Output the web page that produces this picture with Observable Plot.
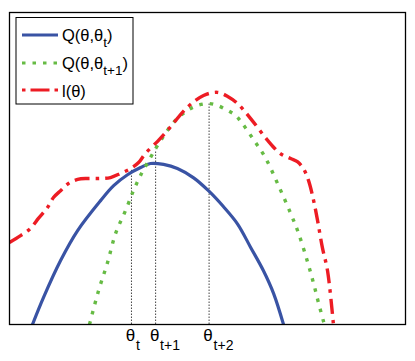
<!DOCTYPE html>
<html>
<head>
<meta charset="utf-8">
<script src="https://cdn.jsdelivr.net/npm/d3@7"></script>
<script src="https://cdn.jsdelivr.net/npm/@observablehq/plot@0.6"></script>
<style>
  body { margin: 0; background: #fff; }
  svg { display: block; }
</style>
</head>
<body>
<div id="chart"></div>
<script>
// l(θ) — red dash-dot
const lX = [0, 0.28, 0.53, 0.73, 0.96, 1.11, 1.29, 1.49, 1.72, 1.97, 2.30, 2.55, 2.80, 3.06, 3.26, 3.43, 3.74, 3.99, 4.49, 4.90, 5.25, 5.51, 5.76, 6.09, 6.52, 6.84, 7.10, 7.27, 7.42, 7.55, 7.68, 7.78, 7.90, 8.03, 8.18];
const lY = [2.63, 2.85, 3.08, 3.40, 3.75, 4.07, 4.29, 4.52, 4.65, 4.68, 4.68, 4.71, 4.84, 5.00, 5.19, 5.48, 5.87, 6.22, 6.96, 7.34, 7.44, 7.31, 7.08, 6.60, 5.90, 5.48, 5.32, 5.22, 5.00, 4.62, 3.97, 3.33, 2.47, 1.73, 0];
// Q(θ,θt) — blue solid
const qtX = [0.58, 0.86, 1.29, 1.72, 2.30, 2.63, 2.98, 3.31, 3.56, 3.89, 4.24, 4.65, 5.03, 5.40, 5.76, 6.09, 6.41, 6.67, 6.92];
const qtY = [0, 0.87, 2.05, 3.01, 3.97, 4.45, 4.80, 5.03, 5.16, 5.13, 5.00, 4.70, 4.28, 3.78, 3.22, 2.47, 1.73, 0.99, 0];
// Q(θ,θt+1) — green dotted
const qt1X = [2.02, 2.25, 2.47, 2.68, 2.93, 3.13, 3.31, 3.56, 3.74, 4.14, 4.49, 4.75, 5.03, 5.25, 5.51, 5.71, 5.88, 6.16, 6.46, 6.79, 7.10, 7.30, 7.53, 7.68, 7.80, 7.95];
const qt1Y = [0, 1.09, 1.96, 2.92, 3.65, 4.29, 4.78, 5.35, 5.74, 6.47, 6.86, 7.02, 7.08, 7.02, 6.86, 6.70, 6.44, 5.93, 5.35, 4.46, 3.56, 2.92, 1.99, 1.31, 0.71, 0];
// iterates θt, θt+1, θt+2
const tickX = [3.08, 3.69, 5.04];
const tickTop = [4.94, 5.58, 7.08];
const tickSub = ["t", "t+1", "t+2"];
const seriesNames = ["Q(θ,θ|t|)", "Q(θ,θ|t+1|)", "l(θ)"];

const zip = (xs, ys) => xs.map((x, i) => ({x, y: ys[i]}));
const red = zip(lX, lY), blue = zip(qtX, qtY), green = zip(qt1X, qt1Y);
const ticks = tickX.map((x, i) => ({x, top: tickTop[i], sub: tickSub[i]}));

const FONT = "'Liberation Sans', Arial, Helvetica, sans-serif";
const C_BLUE = "#3953a4", C_GREEN = "#66bb44", C_RED = "#ed1c24";

const svg = Plot.plot({
  width: 415,
  height: 361,
  marginLeft: 9,
  marginRight: 10,
  marginTop: 12,
  marginBottom: 37,
  style: {fontFamily: FONT, background: "#fff"},
  x: {domain: [0, 10], axis: null},
  y: {domain: [0, 10], axis: null},
  marks: [
    Plot.ruleX(ticks, {x: "x", y1: 0, y2: "top", stroke: "#444", strokeWidth: 1, strokeDasharray: "1.5,1.5"}),
    Plot.line(blue, {x: "x", y: "y", curve: "catmull-rom", stroke: C_BLUE, strokeWidth: 3.2, clip: true}),
    Plot.line(green, {x: "x", y: "y", curve: "catmull-rom", stroke: C_GREEN, strokeWidth: 3.4, strokeDasharray: "3.5,7", strokeLinecap: "butt", clip: true}),
    Plot.line(red, {x: "x", y: "y", curve: "catmull-rom", stroke: C_RED, strokeWidth: 3.4, strokeDasharray: "15,6,3.5,6", strokeLinecap: "butt", clip: true}),
    Plot.frame({stroke: "#000", strokeWidth: 1.3}),
    Plot.text(ticks, {x: "x", text: () => "θ", frameAnchor: "bottom", dy: 11, dx: -1, lineAnchor: "middle", fontSize: 17, fill: "#000"}),
    Plot.text(ticks, {x: "x", text: "sub", frameAnchor: "bottom", dy: 21.5, dx: 4.5, textAnchor: "start", lineAnchor: "middle", fontSize: 14, fill: "#000"})
  ]
});

// legend box inside the frame
const g = d3.select(svg).append("g").attr("font-family", FONT).attr("text-anchor", "start");
g.append("rect").attr("x", 16).attr("y", 17.5).attr("width", 117).attr("height", 86.5)
  .attr("fill", "#fff").attr("stroke", "#000").attr("stroke-width", 1);
const styles = [
  {stroke: C_BLUE, dash: null},
  {stroke: C_GREEN, dash: "3.5,7"},
  {stroke: C_RED, dash: "3.5,5,19,5,3.5"}
];
const lineY = [35, 63, 90];
const baseY = [40.5, 68.5, 97];
seriesNames.forEach((name, i) => {
  const ln = g.append("line").attr("x1", 22).attr("x2", 58).attr("y1", lineY[i]).attr("y2", lineY[i])
    .attr("stroke", styles[i].stroke).attr("stroke-width", 3.2);
  if (styles[i].dash) ln.attr("stroke-dasharray", styles[i].dash);
  const parts = name.split("|");
  const t = g.append("text").attr("x", 62).attr("y", baseY[i]).attr("font-size", 16.5).attr("fill", "#000");
  t.append("tspan").text(parts[0]);
  if (parts.length > 1) {
    t.append("tspan").attr("dy", 6).attr("font-size", 13.5).text(parts[1]);
    t.append("tspan").attr("dy", -6).text(parts[2]);
  }
});

document.getElementById("chart").appendChild(svg);
</script>
</body>
</html>
